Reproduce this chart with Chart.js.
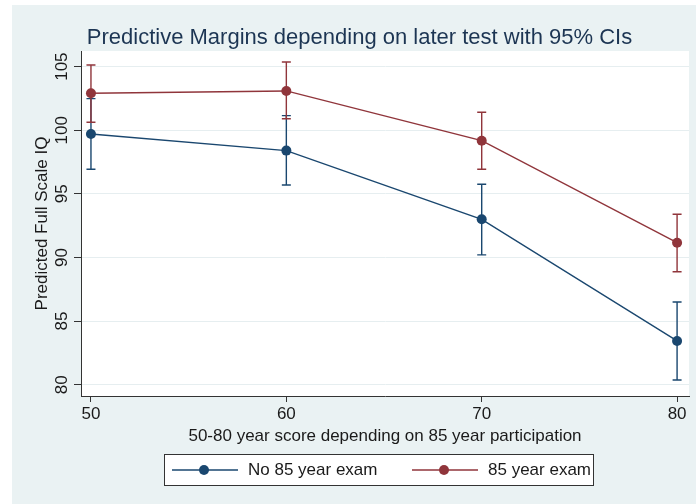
<!DOCTYPE html>
<html>
<head>
<meta charset="utf-8">
<script src="https://cdn.jsdelivr.net/npm/chart.js@4.4.1/dist/chart.umd.min.js"></script>
<style>
  html, body { margin: 0; padding: 0; background: #ffffff; }
  #wrap { width: 696px; height: 504px; position: relative; }
</style>
</head>
<body>
<div id="wrap"><canvas id="c" width="696" height="504"></canvas></div>
<script>
// ---- data ----
const titleText = 'Predictive Margins depending on later test with 95% CIs';
const xTitle = '50-80 year score depending on 85 year participation';
const yTitle = 'Predicted Full Scale IQ';
const seriesNames = ['No 85 year exam', '85 year exam'];
const xValues = [50, 60, 70, 80];
const noExam   = [99.71, 98.40, 93.00, 83.44];
const noExamLo = [96.93, 95.70, 90.20, 80.37];
const noExamHi = [102.49, 101.15, 95.75, 86.50];
const exam     = [102.91, 103.09, 99.18, 91.16];
const examLo   = [100.63, 100.91, 96.93, 88.88];
const examHi   = [105.13, 105.37, 101.42, 93.40];
const xTicks = [50, 60, 70, 80];
const yTicks = [80, 85, 90, 95, 100, 105];

const NAVY = '#1a476f';
const MAROON = '#90353b';
const BG = '#eaf2f3';
const FONT = "'Liberation Sans', Arial, sans-serif";
const LABEL_SIZE = 17;

const toPts = (ys) => xValues.map((x, i) => ({ x: x, y: ys[i] }));

const bgPlugin = {
  id: 'bg',
  beforeDraw(chart) {
    const { ctx, chartArea: a } = chart;
    ctx.save();
    ctx.fillStyle = '#ffffff';
    ctx.fillRect(0, 0, chart.width, chart.height);
    ctx.fillStyle = BG;
    ctx.fillRect(12, 5, chart.width - 12, chart.height - 5);
    ctx.fillStyle = '#ffffff';
    ctx.fillRect(a.left, a.top, a.right - a.left, a.bottom - a.top);
    ctx.restore();
  }
};

const errPlugin = {
  id: 'errbars',
  beforeDatasetsDraw(chart) {
    const { ctx } = chart;
    const xs = chart.scales.x, ys = chart.scales.y;
    chart.data.datasets.forEach((ds) => {
      ctx.save();
      ctx.strokeStyle = ds.borderColor;
      ctx.lineWidth = 1.4;
      ds.lo.forEach((lo, i) => {
        const px = xs.getPixelForValue(xValues[i]);
        const p1 = ys.getPixelForValue(lo);
        const p2 = ys.getPixelForValue(ds.hi[i]);
        ctx.beginPath();
        ctx.moveTo(px, p1); ctx.lineTo(px, p2);
        ctx.moveTo(px - 4.5, p1); ctx.lineTo(px + 4.5, p1);
        ctx.moveTo(px - 4.5, p2); ctx.lineTo(px + 4.5, p2);
        ctx.stroke();
      });
      ctx.restore();
    });
  }
};

const decoPlugin = {
  id: 'deco',
  afterDraw(chart) {
    const { ctx } = chart;
    const ys = chart.scales.y;
    ctx.save();
    // title
    ctx.fillStyle = '#1c3553';
    ctx.font = '22px ' + FONT;
    ctx.textAlign = 'center';
    ctx.textBaseline = 'alphabetic';
    ctx.fillText(titleText, 359.5, 44);
    // y tick labels, rotated
    ctx.fillStyle = '#1a1a1a';
    ctx.font = LABEL_SIZE + 'px ' + FONT;
    ys.ticks.forEach((t) => {
      const py = ys.getPixelForValue(t.value);
      ctx.save();
      ctx.translate(62.5, py);
      ctx.rotate(-Math.PI / 2);
      ctx.textAlign = 'center';
      ctx.textBaseline = 'middle';
      ctx.fillText(String(t.value), 0, 0);
      ctx.restore();
    });
    // legend
    const bx = 164.5, by = 454.5, bw = 429, bh = 31;
    ctx.fillStyle = '#ffffff';
    ctx.fillRect(bx, by, bw, bh);
    ctx.strokeStyle = '#333333';
    ctx.lineWidth = 1;
    ctx.strokeRect(bx, by, bw, bh);
    const cy = by + bh / 2;
    const items = [
      { x0: 172, color: NAVY, text: chart.data.datasets[0].label },
      { x0: 412, color: MAROON, text: chart.data.datasets[1].label }
    ];
    items.forEach((it) => {
      ctx.strokeStyle = it.color;
      ctx.lineWidth = 1.4;
      ctx.beginPath();
      ctx.moveTo(it.x0, cy); ctx.lineTo(it.x0 + 66, cy);
      ctx.stroke();
      ctx.fillStyle = it.color;
      ctx.beginPath();
      ctx.arc(it.x0 + 32, cy, 5, 0, Math.PI * 2);
      ctx.fill();
      ctx.fillStyle = '#1a1a1a';
      ctx.font = LABEL_SIZE + 'px ' + FONT;
      ctx.textAlign = 'left';
      ctx.textBaseline = 'middle';
      ctx.fillText(it.text, it.x0 + 76, cy + 0.5);
    });
    ctx.restore();
  }
};

new Chart(document.getElementById('c'), {
  type: 'line',
  data: {
    datasets: [
      { label: seriesNames[0], data: toPts(noExam), lo: noExamLo, hi: noExamHi,
        borderColor: NAVY, backgroundColor: NAVY, borderWidth: 1.4,
        pointRadius: 5, pointHoverRadius: 5, pointBorderWidth: 0, tension: 0 },
      { label: seriesNames[1], data: toPts(exam), lo: examLo, hi: examHi,
        borderColor: MAROON, backgroundColor: MAROON, borderWidth: 1.4,
        pointRadius: 5, pointHoverRadius: 5, pointBorderWidth: 0, tension: 0 }
    ]
  },
  options: {
    responsive: false,
    animation: false,
    devicePixelRatio: 1,
    layout: { padding: { top: 51, right: 7, left: 0, bottom: 0 } },
    plugins: { legend: { display: false }, title: { display: false }, tooltip: { enabled: false } },
    scales: {
      x: {
        type: 'linear', min: 49.49, max: 80.61,
        afterBuildTicks: (s) => { s.ticks = xTicks.map(v => ({ value: v })); },
        afterFit: (s) => { s.height = 108; },
        grid: { drawOnChartArea: false, drawTicks: true, tickLength: 6, tickColor: '#333333', color: '#333333' },
        border: { display: true, color: '#333333', width: 1 },
        ticks: { color: '#1a1a1a', font: { family: FONT, size: LABEL_SIZE }, padding: 2, maxRotation: 0, autoSkip: false },
        title: { display: true, text: xTitle, color: '#1a1a1a', font: { family: FONT, size: LABEL_SIZE },
                 padding: { top: 0, bottom: 57 } }
      },
      y: {
        type: 'linear', min: 79.11, max: 106.23,
        afterBuildTicks: (s) => { s.ticks = yTicks.map(v => ({ value: v })); },
        afterFit: (s) => { s.width = 81; },
        grid: { drawOnChartArea: true, color: '#e6eef0', lineWidth: 1, drawTicks: true, tickLength: 7, tickColor: '#333333' },
        border: { display: true, color: '#333333', width: 1 },
        ticks: { display: false },
        title: { display: true, text: yTitle, color: '#1a1a1a', font: { family: FONT, size: LABEL_SIZE },
                 padding: { top: 32, bottom: 0 } }
      }
    }
  },
  plugins: [bgPlugin, errPlugin, decoPlugin]
});
</script>
</body>
</html>
